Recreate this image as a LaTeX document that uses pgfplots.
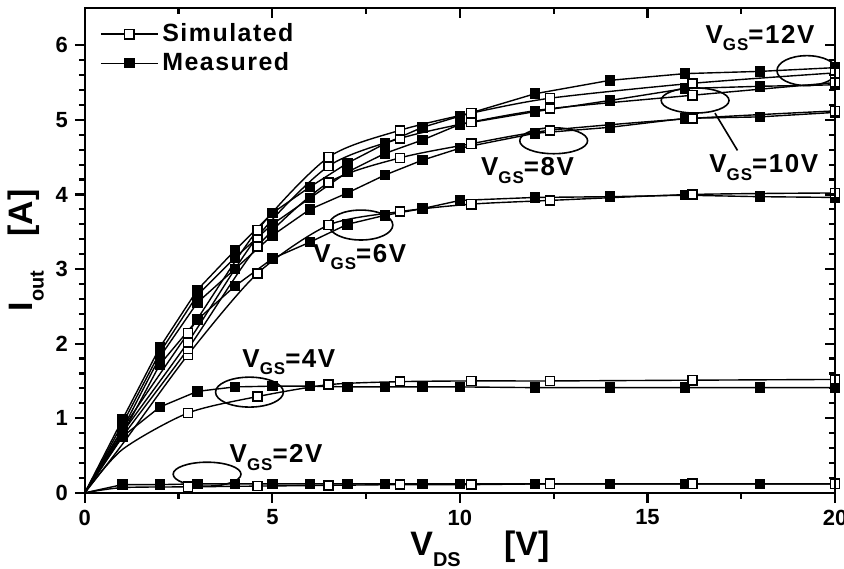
\documentclass[border=0pt]{standalone}
\usepackage{fontspec}
\setmainfont{Liberation Sans}
\newfontfamily\spaced[LetterSpace=6]{Liberation Sans}
\usepackage{pgfplots}
\pgfplotsset{compat=1.18}

% subscript used in the V_GS labels
\newcommand{\sub}[1]{\raisebox{-0.55ex}{\fontsize{8.5}{8.5}\selectfont #1}}
\newcommand{\vgs}[1]{\spaced\fontsize{13}{13}\selectfont\bfseries V\sub{GS}=#1V}

\pgfplotsset{
  sim/.style={black, line width=0.7pt, smooth, tension=0.45,
    mark=square*, mark options={solid, fill=white, line width=0.8pt}, mark size=2.3pt},
  meas/.style={black, line width=0.7pt,
    mark=square*, mark options={solid, fill=black}, mark size=2.3pt},
}

\begin{document}
\begin{tikzpicture}
\begin{axis}[
    scale only axis,
    width=376pt, height=243pt,
    xmin=0, xmax=20, ymin=0, ymax=6.5,
    xtick={0,5,...,20}, ytick={0,1,...,6},
    minor x tick num=1, minor y tick num=4,
    tick align=outside, xtick pos=bottom, ytick pos=left,
    major tick length=5pt, minor tick length=3pt,
    axis line style={line width=1.3pt},
    every tick/.style={black, line width=1.1pt},
    /pgf/number format/assume math mode=true,
    ticklabel style={font=\fontsize{11}{12}\selectfont\bfseries},
    xlabel={\fontsize{17}{18}\selectfont\bfseries V\raisebox{-0.6ex}{\fontsize{10}{10}\selectfont DS}\quad\ [V]},
    ylabel={\fontsize{17}{18}\selectfont\bfseries I\raisebox{-0.6ex}{\fontsize{10}{10}\selectfont out}\quad [A]},
    xlabel style={yshift=4pt, xshift=10pt},
    ylabel style={yshift=-1pt},
    legend cell align=left,
    legend style={draw=none, fill=none, at={(0.012,0.985)}, anchor=north west,
      font=\spaced\fontsize{12.5}{13}\selectfont\bfseries, row sep=0pt},
    legend image code/.code={\draw[mark repeat=2,mark phase=2,#1] plot coordinates {(0cm,0cm) (0.5cm,0cm) (1.0cm,0cm)};},
]
\addlegendimage{sim, sharp plot}
\addlegendentry{Simulated}
\addlegendimage{meas}
\addlegendentry{Measured}

% measured, V_GS = 2 ... 12 V
\addplot[meas, mark indices={2,3,4,5,6,7,8,9,10,11,12,13,14,15,16}] coordinates {
 (0,0) (1,0.11) (2,0.11) (3,0.12) (4,0.12) (5,0.12) (6,0.12) (7,0.12) (8,0.12)
 (9,0.12) (10,0.12) (12,0.12) (14,0.12) (16,0.12) (18,0.12) (20,0.12)};
\addplot[meas, mark indices={2,3,4,5,6,7,8,9,10,11,12,13,14,15,16}] coordinates {
 (0,0) (1,0.75) (2,1.15) (3,1.36) (4,1.42) (5,1.43) (6,1.43) (7,1.42) (8,1.42)
 (9,1.42) (10,1.42) (12,1.41) (14,1.41) (16,1.41) (18,1.41) (20,1.41)};
\addplot[meas, mark indices={2,3,4,5,6,7,8,9,10,11,12,13,14,15,16}] coordinates {
 (0,0) (1,0.78) (2,1.72) (3,2.32) (4,2.77) (5,3.14) (6,3.36) (7,3.60) (8,3.72)
 (9,3.81) (10,3.92) (12,3.96) (14,3.97) (16,3.99) (18,3.97) (20,3.96)};
\addplot[meas, mark indices={2,3,4,5,6,7,8,9,10,11,12,13,14,15,16}] coordinates {
 (0,0) (1,0.85) (2,1.82) (3,2.55) (4,3.00) (5,3.45) (6,3.80) (7,4.02) (8,4.26)
 (9,4.46) (10,4.62) (12,4.82) (14,4.90) (16,5.02) (18,5.04) (20,5.10)};
\addplot[meas, mark indices={2,3,4,5,6,7,8,9,10,11,12,13,14,15,16}] coordinates {
 (0,0) (1,0.92) (2,1.88) (3,2.65) (4,3.15) (5,3.60) (6,3.95) (7,4.30) (8,4.55)
 (9,4.73) (10,4.94) (12,5.11) (14,5.26) (16,5.42) (18,5.45) (20,5.47)};
\addplot[meas, mark indices={2,3,4,5,6,7,8,9,10,11,12,13,14,15,16}] coordinates {
 (0,0) (1,0.98) (2,1.95) (3,2.72) (4,3.25) (5,3.75) (6,4.10) (7,4.42) (8,4.68)
 (9,4.90) (10,5.05) (12,5.35) (14,5.53) (16,5.62) (18,5.65) (20,5.70)};

% simulated, V_GS = 2 ... 12 V
\addplot[sim, mark indices={3,4,5,6,7,8,9,10}] coordinates {
 (0,0) (1,0.07) (2.75,0.08) (4.6,0.09) (6.5,0.10) (8.4,0.11) (10.3,0.11) (12.4,0.12) (16.2,0.12) (20,0.12)};
\addplot[sim, mark indices={3,4,5,6,7,8,9,10}] coordinates {
 (0,0) (1,0.58) (2.75,1.07) (4.6,1.29) (6.5,1.45) (8.4,1.49) (10.3,1.50) (12.4,1.50) (16.2,1.51) (20,1.52)};
\addplot[sim, mark indices={3,4,5,6,7,8,9,10}] coordinates {
 (0,0) (1,0.65) (2.75,1.85) (4.6,2.94) (6.5,3.59) (8.4,3.77) (10.3,3.87) (12.4,3.92) (16.2,4.00) (20,4.02)};
\addplot[sim, mark indices={3,4,5,6,7,8,9,10}] coordinates {
 (0,0) (1,0.75) (2.75,1.93) (4.6,3.30) (6.5,4.16) (8.4,4.49) (10.3,4.68) (12.4,4.86) (16.2,5.02) (20,5.12)};
\addplot[sim, mark indices={3,4,5,6,7,8,9,10}] coordinates {
 (0,0) (1,0.80) (2.75,2.02) (4.6,3.43) (6.5,4.38) (8.4,4.75) (10.3,4.97) (12.4,5.15) (16.2,5.33) (20,5.50)};
\addplot[sim, mark indices={3,4,5,6,7,8,9,10}] coordinates {
 (0,0) (1,0.85) (2.75,2.14) (4.6,3.52) (6.5,4.50) (8.4,4.86) (10.3,5.09) (12.4,5.29) (16.2,5.49) (20,5.63)};

% ellipses and labels
\draw[line width=0.8pt] (axis cs:19.25,5.66) ellipse [x radius=15pt, y radius=7.5pt];
\draw[line width=0.8pt] (axis cs:16.27,5.26) ellipse [x radius=17pt, y radius=6.3pt];
\draw[line width=0.8pt] (axis cs:12.5,4.72) ellipse [x radius=17pt, y radius=6.5pt];
\draw[line width=0.8pt] (axis cs:7.36,3.59) ellipse [x radius=16pt, y radius=7.5pt];
\draw[line width=0.8pt] (axis cs:4.39,1.35) ellipse [x radius=17pt, y radius=7.5pt];
\draw[line width=0.8pt] (axis cs:3.26,0.25) ellipse [x radius=17pt, y radius=6pt];
\draw[line width=0.8pt] (axis cs:16.8,5.09) -- (axis cs:17.4,4.59);

\node at (axis cs:18.0,6.10) {\vgs{12}};
\node at (axis cs:18.1,4.36) {\vgs{10}};
\node at (axis cs:11.8,4.32) {\vgs{8}};
\node at (axis cs:7.33,3.16) {\vgs{6}};
\node at (axis cs:5.44,1.75) {\vgs{4}};
\node at (axis cs:5.10,0.47) {\vgs{2}};

\coordinate (sw) at (rel axis cs:0,0);
\coordinate (ne) at (rel axis cs:1,1);
\end{axis}
% mirrored ticks on top and right, pointing inward
\begin{axis}[
    scale only axis,
    width=376pt, height=243pt,
    xmin=0, xmax=20, ymin=0, ymax=6.5,
    xtick={0,5,...,20}, ytick={0,1,...,6},
    minor x tick num=1, minor y tick num=4,
    tick align=inside, xtick pos=top, ytick pos=right,
    major tick length=5pt, minor tick length=3pt,
    axis line style={line width=1.3pt},
    every tick/.style={black, line width=1.1pt},
    xticklabels={}, yticklabels={},
]
\end{axis}
\pgfresetboundingbox
\path ([xshift=-42.5pt,yshift=-38pt]sw) rectangle ([xshift=4.5pt,yshift=4pt]ne);
\end{tikzpicture}
\end{document}
